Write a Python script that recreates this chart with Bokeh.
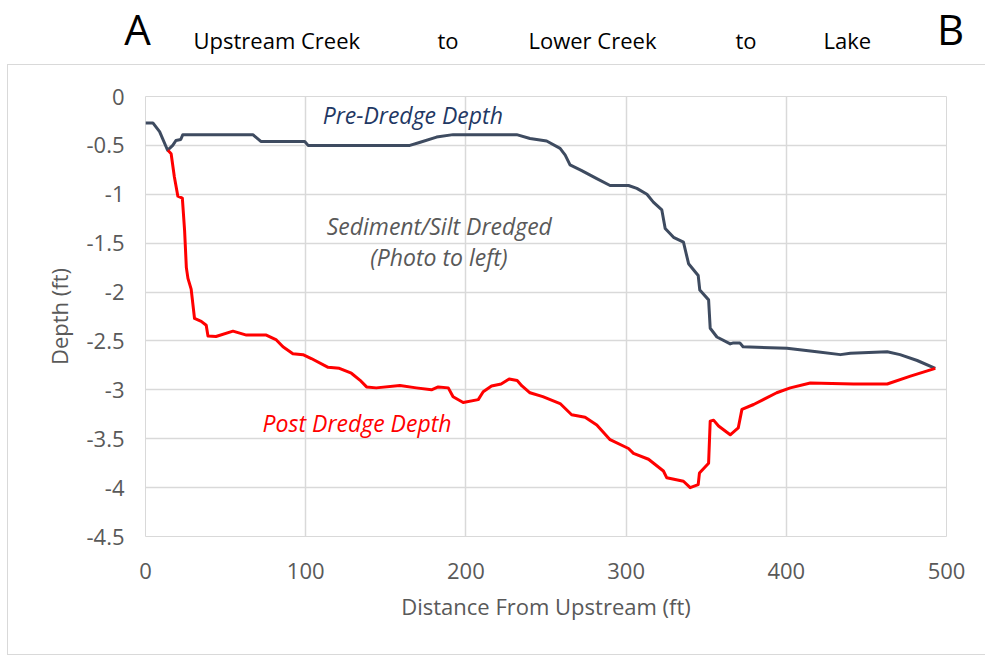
from bokeh.plotting import figure
from bokeh.models import Range1d, FixedTicker, Label, InlineStyleSheet
from bokeh.embed import file_html
from bokeh.resources import INLINE

# ---------------- data ----------------
pre_x = [0, 4.6, 8.8, 13.8, 17, 19, 22, 23.3, 67, 72, 99.4, 101.5, 165, 171, 181.7, 192,
         231.7, 240, 250.4, 258.8, 262, 265, 272, 281.7, 290, 301.5, 306.7, 313, 317, 322.3,
         324.4, 329.6, 335.8, 339, 345, 346, 351.5, 352.5, 356.7, 365, 367, 371, 373, 400.4,
         419, 433.8, 440, 463, 471, 481.7, 493]
pre_y = [-0.27, -0.27, -0.36, -0.55, -0.5, -0.45, -0.44, -0.39, -0.39, -0.46, -0.46, -0.5,
         -0.5, -0.47, -0.415, -0.39, -0.39, -0.43, -0.455, -0.53, -0.6, -0.70, -0.755, -0.84,
         -0.91, -0.91, -0.94, -1.0, -1.08, -1.16, -1.35, -1.44, -1.49, -1.71, -1.83, -1.98,
         -2.08, -2.37, -2.46, -2.53, -2.52, -2.52, -2.56, -2.575, -2.61, -2.64, -2.625, -2.61,
         -2.64, -2.70, -2.78]

post_x = [14, 16, 18, 20.2, 23, 24.4, 25.5, 26.5, 28.5, 30.6, 34.8, 37.9, 39, 44, 54.6, 63,
          75.4, 81.7, 85.8, 92, 98.3, 103.5, 114, 121, 128.5, 133.8, 138, 144, 158.8, 169,
          178.5, 182.7, 189, 192, 198.3, 207.7, 210.8, 216, 222, 227, 232, 235, 240, 248,
          258.8, 266, 274.4, 281.7, 290, 301.5, 304.6, 314, 323.3, 325.4, 335.8, 340, 345,
          345.8, 351.5, 352.5, 354.6, 357.7, 365, 370, 372.3, 379.6, 394, 402.5, 415, 442,
          463, 477.5, 493]
post_y = [-0.55, -0.585, -0.82, -1.02, -1.04, -1.37, -1.75, -1.86, -1.97, -2.27, -2.30, -2.34,
          -2.45, -2.455, -2.40, -2.44, -2.44, -2.49, -2.56, -2.63, -2.64, -2.68, -2.77, -2.78,
          -2.83, -2.90, -2.97, -2.98, -2.955, -2.98, -3.0, -2.97, -2.98, -3.07, -3.13, -3.10,
          -3.02, -2.96, -2.94, -2.89, -2.905, -2.96, -3.03, -3.07, -3.14, -3.255, -3.28, -3.36,
          -3.51, -3.60, -3.65, -3.71, -3.83, -3.90, -3.935, -4.0, -3.97, -3.85, -3.75, -3.32,
          -3.31, -3.37, -3.46, -3.39, -3.20, -3.15, -3.03, -2.98, -2.93, -2.94, -2.94, -2.86,
          -2.78]

x_ticks = [0, 100, 200, 300, 400, 500]
y_ticks = [0, -0.5, -1, -1.5, -2, -2.5, -3, -3.5, -4, -4.5]
y_tick_labels = ["0", "-0.5", "-1", "-1.5", "-2", "-2.5", "-3", "-3.5", "-4", "-4.5"]

header_words = ["Upstream Creek", "to", "Lower Creek", "to", "Lake"]
header_left = [193, 437, 528, 735, 823]

FONT = "Open Sans"
GRID = "#D9D9D9"
TXT = "#595959"

# ---------------- header strip ----------------
h = figure(width=985, height=64, x_range=Range1d(0, 985), y_range=Range1d(0, 64),
           toolbar_location=None, output_backend="svg",
           x_axis_location=None, y_axis_location=None, min_border=0)
h.grid.visible = False
h.outline_line_color = None
h.add_layout(Label(x=137, y=36, text="A", text_font=FONT, text_font_size="42px",
                   text_align="center", text_baseline="alphabetic", text_color="black"))
h.add_layout(Label(x=950, y=36, text="B", text_font=FONT, text_font_size="42px",
                   text_align="center", text_baseline="alphabetic", text_color="black"))
for w, xl in zip(header_words, header_left):
    h.add_layout(Label(x=xl, y=25, text=w, text_font=FONT, text_font_size="22px",
                       text_align="left", text_baseline="alphabetic", text_color="black"))

# ---------------- main chart ----------------
border_css = InlineStyleSheet(css="""
:host { position: relative; }
:host::after {
  content: ""; position: absolute; left: 7px; top: 0px; width: 978px; height: 591px;
  border-left: 1.5px solid #D9D9D9; border-top: 1.5px solid #D9D9D9;
  border-bottom: 1.5px solid #D9D9D9; pointer-events: none; box-sizing: border-box;
}
""")

p = figure(width=985, height=594, x_range=Range1d(0, 500), y_range=Range1d(-4.5, 0),
           toolbar_location=None, output_backend="svg",
           min_border_left=145, min_border_right=39, min_border_top=32, min_border_bottom=122,
           stylesheets=[border_css])
p.outline_line_color = GRID
p.outline_line_width = 1

p.xaxis.ticker = FixedTicker(ticks=x_ticks)
p.yaxis.ticker = FixedTicker(ticks=y_ticks)
p.yaxis.major_label_overrides = {t: s for t, s in zip(y_ticks, y_tick_labels)}
for ax in (p.xaxis[0], p.yaxis[0]):
    ax.axis_line_color = None
    ax.major_tick_line_color = None
    ax.minor_tick_line_color = None
    ax.major_tick_out = 0
    ax.major_tick_in = 0
    ax.major_label_text_font = FONT
    ax.major_label_text_font_size = "22px"
    ax.major_label_text_color = TXT
    ax.axis_label_text_font = FONT
    ax.axis_label_text_font_size = "22px"
    ax.axis_label_text_font_style = "normal"
    ax.axis_label_text_color = TXT
p.xaxis.axis_label = "Distance From Upstream (ft)"
p.yaxis.axis_label = "Depth (ft)"
p.xaxis.major_label_standoff = 26
p.yaxis.major_label_standoff = 21
p.xaxis.axis_label_standoff = 9
p.yaxis.axis_label_standoff = 9

p.xgrid.grid_line_color = GRID
p.ygrid.grid_line_color = GRID
p.xgrid.grid_line_width = 1.5
p.ygrid.grid_line_width = 1.5

p.line(pre_x, pre_y, line_color="#3E4B60", line_width=3, line_join="round")
p.line(post_x, post_y, line_color="#FF0000", line_width=3, line_join="round")

p.add_layout(Label(x=110.6, y=-0.194, text="Pre-Dredge  Depth", text_font=FONT,
                   text_font_size="23px", text_font_style="italic", text_color="#1F3864",
                   text_align="left", text_baseline="middle"))
p.add_layout(Label(x=183.4, y=-1.327, text="Sediment/Silt Dredged", text_font=FONT,
                   text_font_size="23px", text_font_style="italic", text_color=TXT,
                   text_align="center", text_baseline="middle"))
p.add_layout(Label(x=183.1, y=-1.643, text="(Photo to left)", text_font=FONT,
                   text_font_size="23px", text_font_style="italic", text_color=TXT,
                   text_align="center", text_baseline="middle"))
p.add_layout(Label(x=73.1, y=-3.337, text="Post Dredge  Depth", text_font=FONT,
                   text_font_size="23px", text_font_style="italic", text_color="#FF0000",
                   text_align="left", text_baseline="middle"))

open("out.html", "w").write(file_html([h, p], INLINE))
